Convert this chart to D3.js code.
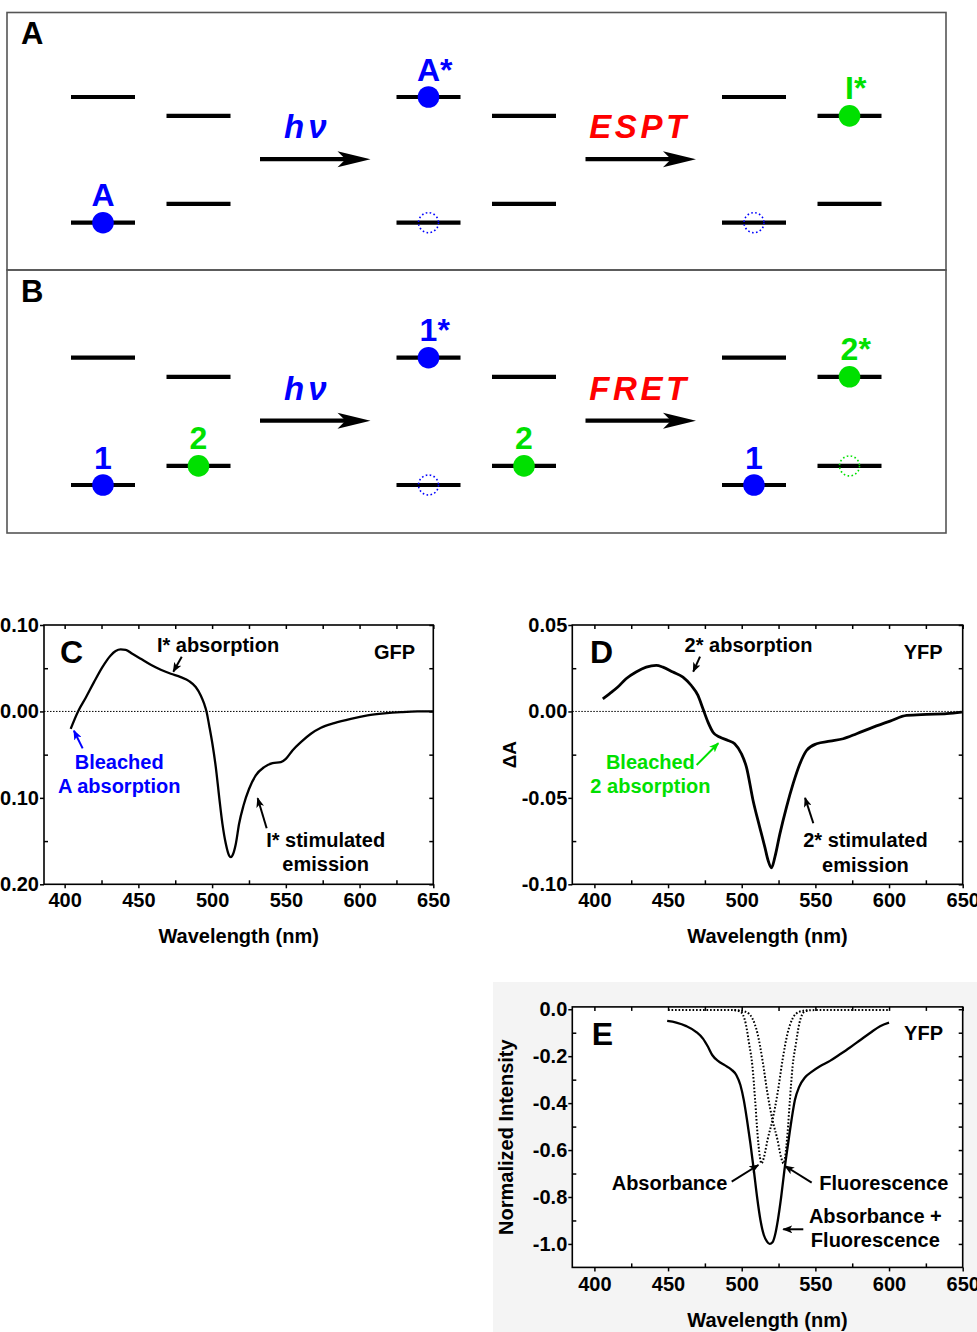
<!DOCTYPE html>
<html>
<head>
<meta charset="utf-8">
<script src="https://cdn.jsdelivr.net/npm/d3@7/dist/d3.min.js"></script>
<style>
html,body{margin:0;padding:0;background:#fff;}
svg{display:block;}
</style>
</head>
<body>
<script>
// ================= DATA =================
// Energy-level schemes (relative energies; donor = molecule 0, acceptor = molecule 1)
const schemeStages = [0, 1, 2];
const donorLevels = [0, 1];
const acceptorLevels = [0.15, 0.85];
const panelAOccupancy = [
  {stage: 0, mol: 0, level: 0, state: "filled", label: "A"},
  {stage: 1, mol: 0, level: 1, state: "filled", label: "A*"},
  {stage: 1, mol: 0, level: 0, state: "hole",   label: ""},
  {stage: 2, mol: 0, level: 0, state: "hole",   label: ""},
  {stage: 2, mol: 1, level: 1, state: "filled", label: "I*"}
];
const panelBOccupancy = [
  {stage: 0, mol: 0, level: 0, state: "filled", label: "1"},
  {stage: 0, mol: 1, level: 0, state: "filled", label: "2"},
  {stage: 1, mol: 0, level: 1, state: "filled", label: "1*"},
  {stage: 1, mol: 0, level: 0, state: "hole",   label: ""},
  {stage: 1, mol: 1, level: 0, state: "filled", label: "2"},
  {stage: 2, mol: 0, level: 0, state: "filled", label: "1"},
  {stage: 2, mol: 1, level: 1, state: "filled", label: "2*"},
  {stage: 2, mol: 1, level: 0, state: "hole",   label: ""}
];
const panelASteps = ["hν", "ESPT"];
const panelBSteps = ["hν", "FRET"];

// Panel C: GFP transient absorption
const cWavelength = [404.1, 409.1, 414.3, 419.9, 425.6, 431.2, 434.6, 438.0, 441.4, 445.9, 451.6, 458.4, 465.2, 472.0, 478.7, 484.4, 488.9, 492.3, 494.6, 496.2, 498.0, 500.2, 502.5, 504.8, 507.0, 509.3, 511.5, 512.7, 514.3, 516.1, 518.3, 521.3, 525.1, 529.6, 535.3, 541.0, 546.6, 550.0, 554.5, 560.2, 567.0, 573.8, 582.8, 594.1, 605.4, 616.7, 628.1, 639.4, 650.0];
const cDeltaA = [-0.0201, 0.0000, 0.0158, 0.0339, 0.0513, 0.0648, 0.0698, 0.0717, 0.0713, 0.0667, 0.0609, 0.0540, 0.0482, 0.0436, 0.0397, 0.0351, 0.0282, 0.0185, 0.0089, 0.0000, -0.0162, -0.0374, -0.0644, -0.0991, -0.1300, -0.1531, -0.1666, -0.1685, -0.1647, -0.1531, -0.1300, -0.1088, -0.0895, -0.0740, -0.0644, -0.0598, -0.0586, -0.0548, -0.0451, -0.0355, -0.0258, -0.0189, -0.0135, -0.0085, -0.0046, -0.0023, -0.0008, 0.0000, 0.0000];

// Panel D: YFP transient absorption
const dWavelength = [405.7, 410.2, 415.9, 421.5, 428.3, 435.2, 442.0, 446.5, 453.3, 460.1, 465.8, 470.3, 473.7, 477.1, 480.5, 485.0, 490.7, 495.2, 499.8, 503.2, 507.7, 512.2, 515.7, 517.9, 520.2, 522.5, 525.9, 530.4, 534.9, 539.5, 544.0, 550.8, 559.9, 568.9, 578.0, 589.3, 600.7, 612.0, 625.6, 639.2, 649.4];
const dDeltaA = [0.0073, 0.0102, 0.0141, 0.0189, 0.0228, 0.0256, 0.0266, 0.0256, 0.0228, 0.0199, 0.0150, 0.0093, 0.0015, -0.0062, -0.0120, -0.0148, -0.0168, -0.0187, -0.0245, -0.0322, -0.0515, -0.0669, -0.0785, -0.0862, -0.0905, -0.0843, -0.0708, -0.0553, -0.0418, -0.0303, -0.0226, -0.0187, -0.0172, -0.0158, -0.0129, -0.0091, -0.0056, -0.0023, -0.0017, -0.0013, -0.0004];

// Panel E: YFP normalized spectra
const eWavelength = [449.4, 455.6, 462.4, 469.2, 473.7, 477.1, 480.1, 483.9, 488.4, 493.0, 496.4, 499.1, 501.4, 503.6, 505.9, 508.2, 510.4, 512.7, 515.0, 517.2, 519.0, 520.9, 522.7, 524.5, 526.8, 529.0, 531.5, 533.8, 536.1, 539.0, 542.9, 547.4, 553.1, 559.9, 566.7, 573.5, 580.3, 587.1, 593.9, 600.0];
const eSum = [-0.050, -0.057, -0.072, -0.097, -0.125, -0.160, -0.196, -0.220, -0.238, -0.257, -0.281, -0.323, -0.387, -0.472, -0.572, -0.685, -0.799, -0.898, -0.962, -0.990, -1.000, -0.993, -0.960, -0.900, -0.799, -0.685, -0.572, -0.472, -0.387, -0.331, -0.291, -0.267, -0.243, -0.220, -0.192, -0.163, -0.132, -0.101, -0.072, -0.057];
const eAbsWavelength = [450, 470, 490, 494.8, 499.3, 502.7, 505.0, 507.3, 509.1, 510.7, 512.3, 513.4, 515.2, 517.5, 520.9, 524.3, 527.7, 531.1, 534.5, 539.0, 544.7];
const eAbsorbance = [-0.003, -0.003, -0.003, -0.004, -0.011, -0.061, -0.146, -0.245, -0.387, -0.529, -0.628, -0.657, -0.628, -0.557, -0.472, -0.359, -0.217, -0.103, -0.040, -0.011, -0.004];
const eFluWavelength = [495.0, 497.1, 502.8, 507.3, 510.7, 514.1, 517.5, 520.9, 524.3, 526.6, 528.4, 529.5, 531.1, 532.7, 534.5, 536.8, 539.1, 542.5, 547.0, 560.0, 580.0, 600.0];
const eFluorescence = [-0.003, -0.004, -0.011, -0.040, -0.103, -0.217, -0.359, -0.472, -0.557, -0.628, -0.657, -0.628, -0.529, -0.387, -0.245, -0.146, -0.061, -0.011, -0.004, -0.003, -0.003, -0.003];

// Ticks
const xTickValues = [400, 450, 500, 550, 600, 650];
const xMinorTicks = [425, 475, 525, 575, 625];
const cYTicks = [0.10, 0.00, -0.10, -0.20];
const cYMinor = [0.05, -0.05, -0.15];
const dYTicks = [0.05, 0.00, -0.05, -0.10];
const dYMinor = [0.025, -0.025, -0.075];
const eYTicks = [0.0, -0.2, -0.4, -0.6, -0.8, -1.0];
const eYMinor = [-0.1, -0.3, -0.5, -0.7, -0.9];

// ================= DRAWING =================
const FONT = "'Liberation Sans', Arial, Helvetica, sans-serif";
const BLUE = "#0000ff", GREEN = "#00e000", RED = "#ff0000";
const molColor = [BLUE, GREEN];
const stepColor = [BLUE, RED];

const svg = d3.select("body").append("svg")
  .attr("width", 977).attr("height", 1332)
  .attr("font-family", FONT).attr("font-weight", "bold");

const defs = svg.append("defs");
function addMarker(id, color) {
  defs.append("marker").attr("id", id)
    .attr("viewBox", "0 0 10 8").attr("markerUnits", "userSpaceOnUse")
    .attr("markerWidth", 10).attr("markerHeight", 8)
    .attr("refX", 9).attr("refY", 4).attr("orient", "auto")
    .append("path").attr("d", "M0,0 L10,4 L0,8 L2.5,4 Z").attr("fill", color);
}
addMarker("arrK", "#000"); addMarker("arrB", BLUE); addMarker("arrG", GREEN);
const markerFor = {"#000": "arrK", [BLUE]: "arrB", [GREEN]: "arrG"};

// ---------- Schemes A and B ----------
function drawScheme(o) {
  const g = svg.append("g");
  g.append("rect").attr("x", 7).attr("y", o.boxTop).attr("width", 939).attr("height", o.boxH)
    .attr("fill", "none").attr("stroke", "#555").attr("stroke-width", 1.6);
  g.append("text").attr("x", 21).attr("y", o.boxTop + 31.5).attr("font-size", 31)
    .attr("fill", "#000").text(o.letter);

  const xs = d3.scaleLinear().domain([0, 2]).range([103, 754]);
  const molStep = 95.5, half = 32;
  const yE = d3.scaleLinear().domain([0, 1]).range([o.ground, o.excited]);
  const levels = [donorLevels, acceptorLevels];
  const cx = (s, m) => xs(s) + m * molStep;

  schemeStages.forEach(s => levels.forEach((lv, m) => lv.forEach(e => {
    g.append("line").attr("x1", cx(s, m) - half).attr("x2", cx(s, m) + half)
      .attr("y1", yE(e)).attr("y2", yE(e)).attr("stroke", "#000").attr("stroke-width", 4.2);
  })));

  o.occ.forEach(d => {
    const px = cx(d.stage, d.mol), py = yE(levels[d.mol][d.level]);
    const col = molColor[d.mol];
    if (d.state === "filled") {
      g.append("circle").attr("cx", px).attr("cy", py).attr("r", 10.8).attr("fill", col);
    } else {
      g.append("circle").attr("cx", px).attr("cy", py).attr("r", 10)
        .attr("fill", "none").attr("stroke", col).attr("stroke-width", 1.6)
        .attr("stroke-dasharray", "1.6,2.4");
    }
    if (d.label) {
      const t = g.append("text").attr("x", px).attr("y", py - 16.5)
        .attr("font-size", 32).attr("fill", col).text(d.label);
      const w0 = t.node().getSubStringLength(0, 1);
      t.attr("x", px - w0 / 2);
    }
  });

  const labelShift = [-10, -3];
  o.steps.forEach((name, i) => {
    const x1 = cx(i, 1) + half + 29.5, x2 = cx(i + 1, 0) - half - 26;
    const ya = yE(0.505);
    g.append("line").attr("x1", x1).attr("x2", x2 - 20).attr("y1", ya).attr("y2", ya)
      .attr("stroke", "#000").attr("stroke-width", 4.3);
    g.append("path")
      .attr("d", `M${x2},${ya} L${x2 - 33},${ya - 8} L${x2 - 25},${ya} L${x2 - 33},${ya + 8} Z`)
      .attr("fill", "#000");
    const tx = (x1 + x2) / 2 + labelShift[i], ty = yE(0.67);
    if (name === "hν") {
      const t = g.append("text").attr("x", tx).attr("y", ty).attr("text-anchor", "middle")
        .attr("font-size", 33).attr("fill", stepColor[i]);
      t.append("tspan").attr("font-style", "italic").text("h");
      t.append("tspan").attr("font-style", "italic").attr("dx", 4).text("ν");
    } else {
      g.append("text").attr("x", tx).attr("y", ty).attr("text-anchor", "middle")
        .attr("font-size", 33).attr("font-style", "italic").attr("fill", stepColor[i])
        .attr("textLength", 97).attr("lengthAdjust", "spacing").text(name);
    }
  });
}

drawScheme({boxTop: 12.5, boxH: 257.5, letter: "A", ground: 222.7, excited: 97,
  occ: panelAOccupancy, steps: panelASteps});
drawScheme({boxTop: 270, boxH: 263, letter: "B", ground: 485, excited: 357.7,
  occ: panelBOccupancy, steps: panelBSteps});

// ---------- Spectra ----------
// light gray background region behind panel E
svg.append("rect").attr("x", 493).attr("y", 982).attr("width", 484).attr("height", 350).attr("fill", "#f4f4f4");

function drawPlot(o) {
  const g = svg.append("g");
  const x = d3.scaleLinear().domain(o.xDomain).range([o.left, o.right]);
  const y = d3.scaleLinear().domain(o.yDomain).range([o.bottom, o.top]);
  g.append("rect").attr("x", o.left).attr("y", o.top).attr("width", o.right - o.left)
    .attr("height", o.bottom - o.top).attr("fill", "#fff");

  const styleAxis = sel => {
    sel.select(".domain").remove();
    sel.selectAll("line").attr("stroke", "#000").attr("stroke-width", 1.5);
    sel.selectAll("text").attr("font-size", 20).attr("font-weight", "bold")
      .attr("font-family", FONT).attr("fill", "#000");
  };
  g.append("g").attr("transform", `translate(0,${o.bottom})`)
    .call(d3.axisBottom(x).tickValues(xTickValues).tickSize(4).tickSizeOuter(0).tickPadding(5).tickFormat(d => String(d)))
    .call(styleAxis);
  g.append("g").attr("transform", `translate(0,${o.bottom})`)
    .call(d3.axisBottom(x).tickValues(xMinorTicks).tickSize(-4).tickSizeOuter(0).tickFormat(""))
    .call(styleAxis);
  g.append("g").attr("transform", `translate(0,${o.top})`)
    .call(d3.axisTop(x).tickValues(xTickValues.concat(xMinorTicks)).tickSize(-4).tickSizeOuter(0).tickFormat(""))
    .call(styleAxis);
  g.append("g").attr("transform", `translate(${o.left},0)`)
    .call(d3.axisLeft(y).tickValues(o.yTicks).tickSize(4).tickSizeOuter(0).tickPadding(1).tickFormat(o.yFormat))
    .call(styleAxis);
  g.append("g").attr("transform", `translate(${o.left},0)`)
    .call(d3.axisLeft(y).tickValues(o.yMinor).tickSize(-4).tickSizeOuter(0).tickFormat(""))
    .call(styleAxis);
  g.append("g").attr("transform", `translate(${o.right},0)`)
    .call(d3.axisRight(y).tickValues(o.yTicks.concat(o.yMinor)).tickSize(-4).tickSizeOuter(0).tickFormat(""))
    .call(styleAxis);

  if (o.zeroLine) {
    g.append("line").attr("x1", o.left).attr("x2", o.right).attr("y1", y(0)).attr("y2", y(0))
      .attr("stroke", "#000").attr("stroke-width", 1).attr("stroke-dasharray", "1.5,1.5");
  }

  o.series.forEach(s => {
    const line = d3.line().x((d, i) => x(s.wl[i])).y(d => y(d)).curve(d3.curveMonotoneX);
    g.append("path").attr("d", line(s.val)).attr("fill", "none").attr("stroke", "#000")
      .attr("stroke-width", s.width).attr("stroke-linejoin", "round")
      .attr("stroke-dasharray", s.dash || null);
  });

  g.append("rect").attr("x", o.left).attr("y", o.top).attr("width", o.right - o.left)
    .attr("height", o.bottom - o.top).attr("fill", "none").attr("stroke", "#000").attr("stroke-width", 1.6);

  // panel letter and protein tag
  g.append("text").attr("x", o.left + o.letterDx).attr("y", o.top + 38).attr("font-size", 32).text(o.letter);
  g.append("text").attr("x", o.right - o.tagDx).attr("y", o.top + 33.5).attr("font-size", 20)
    .attr("text-anchor", "end").text(o.tag);

  // axis titles
  g.append("text").attr("x", (o.left + o.right) / 2).attr("y", o.bottom + o.xTitleDy)
    .attr("text-anchor", "middle").attr("font-size", 20).text("Wavelength (nm)");
  if (o.yTitle) {
    g.append("text").attr("transform", `translate(${o.left - o.yTitleDx},${(o.top + o.bottom) / 2}) rotate(-90)`)
      .attr("text-anchor", "middle").attr("font-size", o.yTitleSize).text(o.yTitle);
  }

  // annotations
  o.notes.forEach(n => {
    const col = n.color || "#000";
    n.lines.forEach((ln, k) => {
      g.append("text").attr("x", x(n.wl)).attr("y", y(n.v[k])).attr("text-anchor", n.anchor || "middle")
        .attr("font-size", 20).attr("fill", col).text(ln);
    });
  });
  o.arrows.forEach(a => {
    const col = a.color || "#000";
    g.append("line").attr("x1", x(a.from[0])).attr("y1", y(a.from[1]))
      .attr("x2", x(a.to[0])).attr("y2", y(a.to[1]))
      .attr("stroke", col).attr("stroke-width", 2).attr("marker-end", `url(#${markerFor[col]})`);
  });
}

const fmt2 = d => d.toFixed(2);
const fmt1 = d => d.toFixed(1);

drawPlot({
  left: 44, right: 433.3, top: 625, bottom: 884.3,
  xDomain: [386, 650], yDomain: [-0.2, 0.1],
  yTicks: cYTicks, yMinor: cYMinor, yFormat: fmt2, zeroLine: true,
  series: [{wl: cWavelength, val: cDeltaA, width: 2.3}],
  letter: "C", letterDx: 16, tag: "GFP", tagDx: 18.3, xTitleDy: 58.7,
  notes: [
    {lines: ["I* absorption"], wl: 504, v: [0.069]},
    {lines: ["Bleached", "A absorption"], wl: 437, v: [-0.067, -0.0942], color: BLUE},
    {lines: ["I* stimulated", "emission"], wl: 577, v: [-0.1564, -0.1846]}
  ],
  arrows: [
    {from: [479.4, 0.0633], to: [473.7, 0.046]},
    {from: [412.2, -0.0427], to: [406.3, -0.0223], color: BLUE},
    {from: [537, -0.1352], to: [530.9, -0.1005]}
  ]
});

drawPlot({
  left: 572.3, right: 962.7, top: 625, bottom: 884.3,
  xDomain: [385, 650], yDomain: [-0.1, 0.05],
  yTicks: dYTicks, yMinor: dYMinor, yFormat: fmt2, zeroLine: true,
  series: [{wl: dWavelength, val: dDeltaA, width: 2.8}],
  letter: "D", letterDx: 17.7, tag: "YFP", tagDx: 20, xTitleDy: 58.7,
  yTitle: "ΔA", yTitleDx: 56.3, yTitleSize: 19,
  notes: [
    {lines: ["2* absorption"], wl: 504.6, v: [0.0346]},
    {lines: ["Bleached", "2 absorption"], wl: 438, v: [-0.0335, -0.047], color: GREEN},
    {lines: ["2* stimulated", "emission"], wl: 584, v: [-0.0786, -0.0927]}
  ],
  arrows: [
    {from: [471.7, 0.0317], to: [467.1, 0.023]},
    {from: [469.4, -0.031], to: [484.1, -0.0184], color: GREEN},
    {from: [548.6, -0.0647], to: [543, -0.05]}
  ]
});

drawPlot({
  left: 572.3, right: 962.7, top: 1006.9, bottom: 1267.4,
  xDomain: [385, 650], yDomain: [-1.1, 0.01],
  yTicks: eYTicks, yMinor: eYMinor, yFormat: fmt1, zeroLine: false,
  series: [
    {wl: eAbsWavelength, val: eAbsorbance, width: 2, dash: "1.6,1.9"},
    {wl: eFluWavelength, val: eFluorescence, width: 2, dash: "1.6,1.9"},
    {wl: eWavelength, val: eSum, width: 2.3}
  ],
  letter: "E", letterDx: 19.4, tag: "YFP", tagDx: 19.7, xTitleDy: 59.5,
  yTitle: "Normalized Intensity", yTitleDx: 59.3, yTitleSize: 20,
  notes: [
    {lines: ["Absorbance"], wl: 490.2, v: [-0.770], anchor: "end"},
    {lines: ["Fluorescence"], wl: 552.7, v: [-0.770], anchor: "start"},
    {lines: ["Absorbance +", "Fluorescence"], wl: 590.7, v: [-0.912, -1.012]}
  ],
  arrows: [
    {from: [493.2, -0.7348], to: [511.3, -0.6636]},
    {from: [547.5, -0.739], to: [529.4, -0.668]},
    {from: [541.8, -0.9376], to: [528.2, -0.9376]}
  ]
});
</script>
</body>
</html>
